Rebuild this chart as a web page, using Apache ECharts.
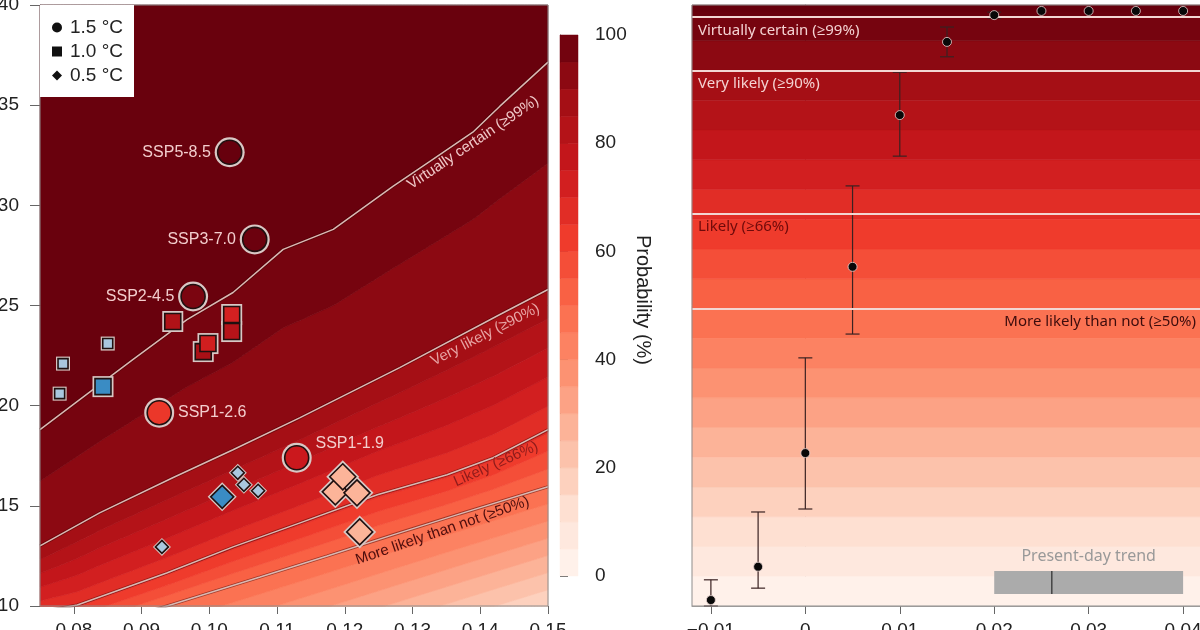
<!DOCTYPE html>
<html><head><meta charset="utf-8">
<script src="https://cdn.jsdelivr.net/npm/echarts@6/dist/echarts.min.js"></script>
<style>html,body{margin:0;padding:0;background:#fff}#c{width:1200px;height:630px}</style>
</head><body><div id="c"></div>
<script>
// ================= DATA =================
// Left panel: x = warming trend, y = value; contour lines of probability (%)
const leftXTicks = [0.08, 0.09, 0.10, 0.11, 0.12, 0.13, 0.14, 0.15];
const contourLevels = [99, 90, 66, 50, 15];
const contour99 = [[0.0750,18.80],[0.0834,20.95],[0.0887,22.30],[0.0967,24.30],[0.1035,25.65],[0.1109,27.80],[0.1183,28.80],[0.1271,30.95],[0.1330,32.30],[0.1389,33.65],[0.1429,34.95],[0.1500,37.15]];
const contour90 = [[0.0750,13.00],[0.0838,14.65],[0.0946,16.40],[0.1035,17.80],[0.1134,19.40],[0.1281,21.90],[0.1429,24.55],[0.1500,25.80]];
const contour66 = [[0.0750,9.70],[0.0805,10.05],[0.0937,11.65],[0.1035,12.95],[0.1134,14.15],[0.1248,15.55],[0.1351,16.55],[0.1419,17.40],[0.1500,18.80]];
const contour50 = [[0.0750,8.03],[0.0942,10.05],[0.1075,11.45],[0.1174,12.50],[0.1271,13.55],[0.1370,14.60],[0.1500,15.95]];
const contour15 = [[0.0750,2.10],[0.1500,9.95]];
const contourNames = ['Virtually certain (≥99%)', 'Very likely (≥90%)', 'Likely (≥66%)', 'More likely than not (≥50%)'];
const contourLabelTrend = [0.1382, 0.1400, 0.1419, 0.1339];

// 1.5 °C: SSP scenarios
const sspNames = ['SSP5-8.5', 'SSP3-7.0', 'SSP2-4.5', 'SSP1-2.6', 'SSP1-1.9'];
const sspTrend = [0.1030, 0.1067, 0.0976, 0.0926, 0.1129];
const sspValue = [32.65, 28.30, 25.45, 19.65, 17.40];
const sspProb  = [100, 99, 96, 64, 75];
// 1.0 °C
const sqModelTrend = [0.0946, 0.0991, 0.0998, 0.1033, 0.1033];
const sqModelValue = [24.20, 22.70, 23.10, 23.70, 24.55];
const sqModelProb  = [84, 86, 73, 82, 72];
const sqObsTrend = [0.0843];
const sqObsValue = [20.95];
const sqObsOtherTrend = [0.0784, 0.0779, 0.0850];
const sqObsOtherValue = [22.10, 20.60, 23.10];
// 0.5 °C
const dmModelTrend = [0.1186, 0.1218, 0.1197, 0.1222];
const dmModelValue = [15.70, 15.65, 16.45, 13.70];
const dmModelProb  = [27, 27, 27, 27];
const dmObsTrend = [0.1019];
const dmObsValue = [15.45];
const dmObsOtherTrend = [0.0930, 0.1042, 0.1051, 0.1072];
const dmObsOtherValue = [12.95, 16.65, 16.05, 15.75];

// Colour bar / probability bands
const probTicks = [0, 20, 40, 60, 80, 100];
const probBandEdges = [0,5,10,15,20,25,30,35,40,45,50,55,60,65,70,75,80,85,90,95,100];

// Right panel
const rightXTicks = [-0.01, 0, 0.01, 0.02, 0.03, 0.04];
const warmTrend = [-0.01, -0.005, 0, 0.005, 0.01, 0.015, 0.02, 0.025, 0.03, 0.035, 0.04];
const probMean  = [1.0, 6.6, 25.7, 57.0, 82.5, 94.8, 99.3, 100, 100, 100, 100];
const probLow   = [0.0, 3.0, 16.3, 45.7, 75.6, 92.3, 98.8, 100, 100, 100, 100];
const probHigh  = [4.4, 15.8, 41.7, 70.6, 89.7, 97.3, 99.8, 100, 100, 100, 100];
const likelihoodLevels = [99, 90, 66, 50];
const likelihoodNames = ['Virtually certain (≥99%)', 'Very likely (≥90%)', 'Likely (≥66%)', 'More likely than not (≥50%)'];
const presentTrend = [0.020, 0.0261, 0.040]; // low, central, high

// ================= HELPERS =================
const REDS = ['#fff5f0','#fee0d2','#fcbba1','#fc9272','#fb6a4a','#ef3b2c','#cb181d','#a50f15','#67000d'];
function hex2rgb(h){return [parseInt(h.slice(1,3),16),parseInt(h.slice(3,5),16),parseInt(h.slice(5,7),16)];}
function reds(t){
  t = Math.max(0, Math.min(1, t));
  const p = t*(REDS.length-1); const i = Math.min(Math.floor(p), REDS.length-2); const f = p-i;
  const a = hex2rgb(REDS[i]), b = hex2rgb(REDS[i+1]);
  return 'rgb(' + a.map((v,k)=>Math.round(v+(b[k]-v)*f)).join(',') + ')';
}
const FONT = '"Liberation Sans", Arial, sans-serif';
const FONT2 = '"Noto Sans", "Open Sans", sans-serif';
const L_XMIN = 0.075, L_XMAX = 0.15, L_YMIN = 10, L_YMAX = 40;
const contours = [contour99, contour90, contour66, contour50, contour15];
function yOn(line, x){
  for (let k=0;k<line.length-1;k++){
    const a=line[k], b=line[k+1];
    if (x<=b[0] || k===line.length-2){ const f=(x-a[0])/(b[0]-a[0]); return a[1]+f*(b[1]-a[1]); }
  }
}
function levelY(x, s){
  if (s >= 100) return L_YMAX; if (s <= 0) return L_YMIN;
  const ys = contours.map(c=>yOn(c,x));
  const n = contourLevels.length;
  if (s > contourLevels[0]) return L_YMAX;
  for (let j=0;j<n-1;j++){
    const hi=contourLevels[j], lo=contourLevels[j+1];
    if (s<=hi && s>=lo) return ys[j+1] + (s-lo)/(hi-lo)*(ys[j]-ys[j+1]);
  }
  const hi=contourLevels[n-2], lo=contourLevels[n-1];
  return ys[n-1] + (s-lo)/(hi-lo)*(ys[n-2]-ys[n-1]);
}
const clampY = y => Math.max(L_YMIN, Math.min(L_YMAX, y));
const bandEdges = probBandEdges.slice(0,-1).concat([99, 100]);
const xsSample = []; for (let k=0;k<=150;k++) xsSample.push(L_XMIN + (L_XMAX-L_XMIN)*k/150);

function frameSeries(idx){
  return { type:'custom', xAxisIndex:idx, yAxisIndex:idx, z:8, silent:true, data:[[0,0]],
    renderItem:(params, api)=>{ const c=params.coordSys;
      return {type:'rect', shape:{x:c.x, y:c.y, width:c.width, height:c.height}, style:{fill:'none', stroke:'#8e8e8e', lineWidth:1}}; } };
}

function markerPair(name, symbol, xs, ys, fills, size, halo, z, labels){
  const haloS = { name: name+'-halo', type:'scatter', symbol, symbolSize: halo, z, silent:true,
    itemStyle:{color:'#d9c8c5', opacity:1}, data: xs.map((x,i)=>[x, ys[i]]) };
  const main = { name, type:'scatter', symbol, symbolSize: size, z: z+1, silent:true,
    itemStyle:{borderColor:'#1f1010', borderWidth:1.6, opacity:1},
    data: xs.map((x,i)=>{ const d={value:[x, ys[i]], itemStyle:{color: fills[i]}};
      if (labels) { d.name = labels.names[i]; d.label = Object.assign({show:true, formatter:'{b}', color:'#f3cdcd', fontSize:16, fontFamily:FONT, distance:6}, labels.style[i]); }
      return d; }) };
  return [haloS, main];
}

// ================= OPTION =================
const chart = echarts.init(document.getElementById('c'));
const series = [];

series.push({ type:'custom', xAxisIndex:0, yAxisIndex:0, z:1, silent:true,
  data: bandEdges.slice(0,-1).map((e,i)=>[0.1, 20, i]),
  renderItem: (params, api)=>{
    const b = api.value(2); const lo = bandEdges[b], hi = bandEdges[b+1];
    const col = reds((lo+hi)/200);
    const pts = [];
    for (const x of xsSample) pts.push(api.coord([x, clampY(levelY(x, hi))]));
    for (let k=xsSample.length-1;k>=0;k--) pts.push(api.coord([xsSample[k], clampY(levelY(xsSample[k], lo))]));
    return {type:'polygon', shape:{points:pts}, style:{fill:col, stroke:col, lineWidth:0.7}};
  }});

[contour99, contour90, contour66, contour50].forEach((c)=>{
  series.push({type:'line', xAxisIndex:0, yAxisIndex:0, z:3, silent:true, showSymbol:false, symbol:'none',
    lineStyle:{color:'rgba(60,0,0,0.45)', width:3.2}, data:c, clip:true});
  series.push({type:'line', xAxisIndex:0, yAxisIndex:0, z:3, silent:true, showSymbol:false, symbol:'none',
    lineStyle:{color:'#d9b9b4', width:1.5}, data:c, clip:true});
});
series.push(frameSeries(0));

const sspLabelStyle = [{position:'left'},{position:'left'},{position:'left'},{position:'right'},{position:'right', offset:[0,-14]}];
series.push(...markerPair('1.5 °C', 'circle', sspTrend, sspValue, sspProb.map(p=>reds(p/100)), 24, 30, 5, {names:sspNames, style:sspLabelStyle}));
series.push(...markerPair('1.0 °C', 'rect', sqModelTrend, sqModelValue, sqModelProb.map(p=>reds(p/100)), 16, 21, 5));
series.push(...markerPair('sq-obs-other', 'rect', sqObsOtherTrend, sqObsOtherValue, sqObsOtherTrend.map(()=>'#a9c7df'), 10, 14, 5));
series.push(...markerPair('sq-obs', 'rect', sqObsTrend, sqObsValue, sqObsTrend.map(()=>'#3a8cc4'), 16, 21, 5));
series.push(...markerPair('0.5 °C', 'diamond', dmModelTrend, dmModelValue, dmModelProb.map(p=>reds(p/100)), 26, 33, 5));
series.push(...markerPair('dm-obs-other', 'diamond', dmObsOtherTrend, dmObsOtherValue, dmObsOtherTrend.map(()=>'#a9c7df'), 13, 18, 5));
series.push(...markerPair('dm-obs', 'diamond', dmObsTrend, dmObsValue, dmObsTrend.map(()=>'#3a8cc4'), 23, 29, 5));

const rightEdges = bandEdges.concat([101]);
series.push({ type:'custom', xAxisIndex:1, yAxisIndex:1, z:1, silent:true,
  data: rightEdges.slice(0,-1).map((e,i)=>[0.01, 50, i]),
  renderItem: (params, api)=>{
    const b = api.value(2); const lo = rightEdges[b], hi = rightEdges[b+1];
    const col = reds(Math.min(100,(lo+hi)/2)/100);
    const c = params.coordSys;
    const p1 = api.coord([0, hi]), p2 = api.coord([0, lo]);
    return {type:'rect', shape:{x:c.x, y:p1[1], width:c.width, height:p2[1]-p1[1]}, style:{fill:col, stroke:col, lineWidth:0.5}};
  }});
const likeLabelStyle = [
  {position:'insideStartBottom', color:'#f4d2d2'},
  {position:'insideStartBottom', color:'#f4d2d2'},
  {position:'insideStartBottom', color:'#6e0a0a'},
  {position:'insideEndBottom', color:'#3c0c0c'}];
series.push({ type:'scatter', name:'levels', xAxisIndex:1, yAxisIndex:1, z:3, silent:true, data:[],
  markLine:{ silent:true, symbol:['none','none'], animation:false,
    lineStyle:{color:'#f3d6d2', width:2.2, type:'solid'},
    data: likelihoodLevels.map((v,i)=>({yAxis:v, name:likelihoodNames[i],
      label: Object.assign({show:true, formatter:'{b}', fontSize:15, fontFamily:FONT2, distance:6}, likeLabelStyle[i])})) }});
series.push({ type:'custom', xAxisIndex:1, yAxisIndex:1, z:4, silent:true,
  data: warmTrend.map((x,i)=>[x, probLow[i], probHigh[i]]),
  renderItem: (params, api)=>{
    const x=api.value(0), lo=api.value(1), hi=api.value(2);
    if (hi-lo <= 0) return {type:'group', children:[]};
    const a = api.coord([x, lo]), b = api.coord([x, hi]); const w = 7;
    const st = {stroke:'#3a2222', lineWidth:1.2};
    return {type:'group', children:[
      {type:'line', shape:{x1:a[0], y1:a[1], x2:b[0], y2:b[1]}, style:st},
      {type:'line', shape:{x1:a[0]-w, y1:a[1], x2:a[0]+w, y2:a[1]}, style:st},
      {type:'line', shape:{x1:b[0]-w, y1:b[1], x2:b[0]+w, y2:b[1]}, style:st}]};
  }});
series.push({ type:'scatter', name:'prob', xAxisIndex:1, yAxisIndex:1, z:5, silent:true, symbolSize:9,
  itemStyle:{color:'#080808', borderColor:'#e9d3d0', borderWidth:0.8, opacity:1},
  data: warmTrend.map((x,i)=>[x, probMean[i]]) });
series.push({ type:'custom', xAxisIndex:1, yAxisIndex:1, z:6, silent:true,
  data: [presentTrend],
  renderItem: (params, api)=>{
    const lo = api.coord([api.value(0), 0]), mid = api.coord([api.value(1), 0]), hi = api.coord([api.value(2), 0]);
    const bottom = lo[1] - 12, top = lo[1] - 35;
    return {type:'group', children:[
      {type:'rect', shape:{x:lo[0], y:top, width:hi[0]-lo[0], height:bottom-top}, style:{fill:'#ababab'}},
      {type:'line', shape:{x1:mid[0], y1:top, x2:mid[0], y2:bottom}, style:{stroke:'#2a2a2a', lineWidth:1.2}},
      {type:'text', x:(lo[0]+hi[0])/2, y:top-15, style:{text:'Present-day trend', fill:'#999999', font:'16px '+FONT2, align:'center', verticalAlign:'middle', textAlign:'center', textVerticalAlign:'middle'}}]};
  }});
series.push(frameSeries(1));

series.push({ type:'custom', xAxisIndex:2, yAxisIndex:2, z:2, silent:true,
  data: probBandEdges.slice(0,-1).map((e,i)=>[0.5, 50, i]),
  renderItem: (params, api)=>{
    const b = api.value(2); const lo = probBandEdges[b], hi = probBandEdges[b+1];
    const col = reds((lo+hi)/200); const c = params.coordSys;
    const p1 = api.coord([0, hi]), p2 = api.coord([0, lo]);
    return {type:'rect', shape:{x:c.x, y:p1[1], width:c.width, height:p2[1]-p1[1]}, style:{fill:col, stroke:col, lineWidth:0.5}};
  }});

const tickLabel = {fontSize:19, color:'#222', fontFamily:FONT};
const gridBase = {containLabel:false, outerBoundsMode:'none'};
const option = {
  animation:false,
  textStyle:{fontFamily:FONT},
  grid:[
    Object.assign({left:40, top:5, width:508, height:601}, gridBase),
    Object.assign({left:692, top:5, width:510, height:601}, gridBase),
    Object.assign({left:560, top:35, width:18, height:541}, gridBase)
  ],
  xAxis:[
    {type:'value', gridIndex:0, min:L_XMIN, max:L_XMAX, splitLine:{show:false},
      axisLine:{show:true, lineStyle:{color:'#8e8e8e'}},
      axisTick:{show:true, length:8, lineStyle:{color:'#666'}, customValues:leftXTicks},
      axisLabel:Object.assign({margin:15, customValues:leftXTicks, formatter:v=>v.toFixed(2)}, tickLabel)},
    {type:'value', gridIndex:1, min:-0.012, max:0.042, splitLine:{show:false},
      axisLine:{show:true, lineStyle:{color:'#8e8e8e'}},
      axisTick:{show:true, length:8, lineStyle:{color:'#666'}, customValues:rightXTicks},
      axisLabel:Object.assign({margin:15, customValues:rightXTicks, formatter:v=>Math.abs(v)<1e-9?'0':(v<0?'−':'')+Math.abs(v).toFixed(2)}, tickLabel)},
    {type:'value', gridIndex:2, min:0, max:1, show:false}
  ],
  yAxis:[
    {type:'value', gridIndex:0, min:L_YMIN, max:L_YMAX, interval:5, splitLine:{show:false},
      axisLine:{show:true, lineStyle:{color:'#8e8e8e'}},
      axisTick:{show:true, length:10, lineStyle:{color:'#666'}},
      axisLabel:Object.assign({margin:21}, tickLabel)},
    {type:'value', gridIndex:1, min:0, max:101, splitLine:{show:false},
      axisLine:{show:true, lineStyle:{color:'#8e8e8e'}}, axisTick:{show:false}, axisLabel:{show:false}},
    {type:'value', gridIndex:2, min:0, max:100, position:'right', splitLine:{show:false},
      axisLine:{show:true, lineStyle:{color:'#555'}},
      axisTick:{show:true, length:8, lineStyle:{color:'#555'}, customValues:probTicks},
      axisLabel:Object.assign({margin:17, customValues:probTicks}, tickLabel)}
  ],
  legend:{ left:40, top:5, orient:'vertical', backgroundColor:'#ffffff', padding:[13,11,12,12], itemGap:5,
    itemWidth:10, itemHeight:10, selectedMode:false, z:20,
    itemStyle:{color:'#111', borderWidth:0},
    textStyle:{fontSize:19, color:'#222', fontFamily:FONT, padding:[0,0,0,3]},
    data:[{name:'1.5 °C', icon:'circle'}, {name:'1.0 °C', icon:'rect'}, {name:'0.5 °C', icon:'diamond'}] },
  series
};
chart.setOption(option);

const contourLabelStyle = [
  {rotate:34, offset:9, color:'#f0c8c8'},
  {rotate:27, offset:11, color:'#e7a4a4'},
  {rotate:24, offset:7, color:'#8e1b1b'},
  {rotate:19, offset:11, color:'#4e0e0e'}];
const graphics = [];
[contour99, contour90, contour66, contour50].forEach((c,i)=>{
  const x = contourLabelTrend[i];
  const p = chart.convertToPixel({gridIndex:0}, [x, yOn(c, x)]);
  const s = contourLabelStyle[i];
  graphics.push({type:'text', x:p[0], y:p[1], rotation:s.rotate*Math.PI/180, z:10, silent:true,
    style:{text:contourNames[i], x:0, y:s.offset, fill:s.color, font:'15px '+FONT, align:'center', verticalAlign:'middle', textAlign:'center', textVerticalAlign:'middle'}});
});
graphics.push({type:'text', x:643, y:300, rotation:-Math.PI/2, z:10, silent:true,
  style:{text:'Probability (%)', fill:'#222', font:'20px '+FONT, align:'center', verticalAlign:'middle', textAlign:'center', textVerticalAlign:'middle'}});
chart.setOption({graphic:graphics});
</script></body></html>
